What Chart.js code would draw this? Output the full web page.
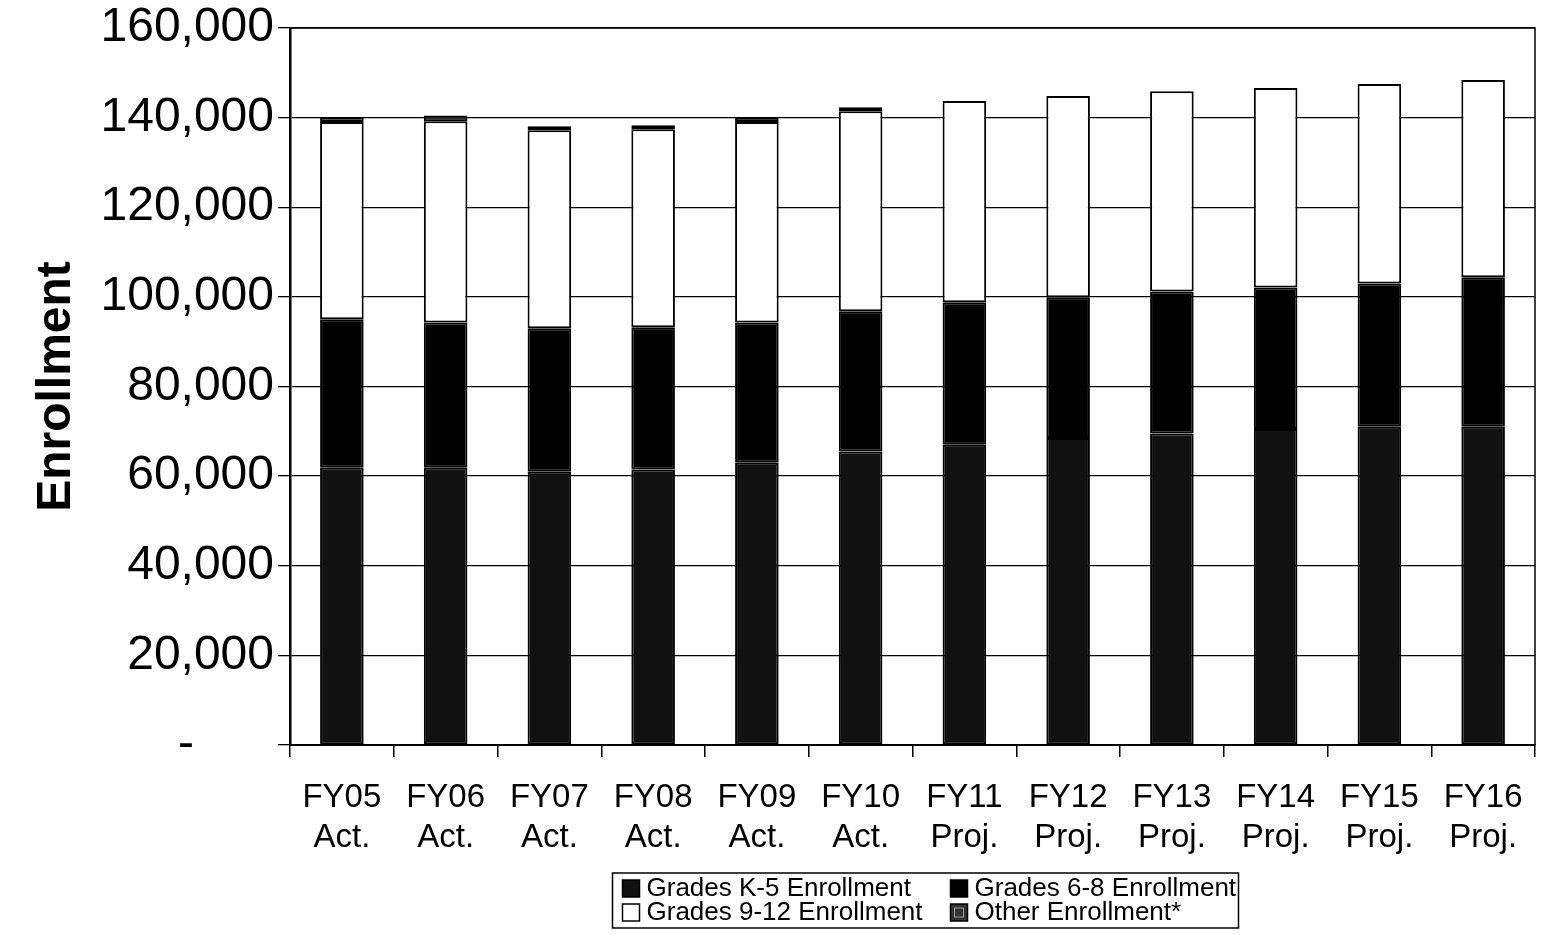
<!DOCTYPE html>
<html>
<head>
<meta charset="utf-8">
<script src="https://cdn.jsdelivr.net/npm/chart.js@4.4.0/dist/chart.umd.min.js"></script>
<style>
html, body { margin: 0; padding: 0; background: #fff; }
#wrap { width: 1549px; height: 935px; }
</style>
</head>
<body>
<div id="wrap"><canvas id="chart"></canvas></div>
<script>
// Fiscal years (two-line labels)
const years = [
    ['FY05', 'Act.'], ['FY06', 'Act.'], ['FY07', 'Act.'], ['FY08', 'Act.'],
    ['FY09', 'Act.'], ['FY10', 'Act.'], ['FY11', 'Proj.'], ['FY12', 'Proj.'],
    ['FY13', 'Proj.'], ['FY14', 'Proj.'], ['FY15', 'Proj.'], ['FY16', 'Proj.']
];

// Enrollment by grade band
const gradesK5  = [62000, 62000, 61000, 61500, 63000, 65500, 67000, 68500, 69500, 70500, 71000, 71000];
const grades68  = [33000, 32300, 32000, 31700, 31300, 31300, 31800, 31400, 31700, 31600, 32000, 33400];
const grades912 = [44000, 44900, 44200, 44200, 44700, 44600, 44900, 44900, 44700, 44500, 44500, 44000];
const otherEnr  = [1100, 1300, 900, 900, 1000, 900, 0, 0, 0, 0, 0, 0];

const yTicks = [0, 20000, 40000, 60000, 80000, 100000, 120000, 140000, 160000];
const seriesNames = ['Grades K-5 Enrollment', 'Grades 6-8 Enrollment', 'Grades 9-12 Enrollment', 'Other Enrollment*'];

const FONT = "'Liberation Sans', Arial, sans-serif";

// Draws the chart frame and the boxed 2x2 legend
const framePlugin = {
    id: 'frame',
    afterDraw(chart) {
        const ctx = chart.ctx;
        const a = chart.chartArea;
        ctx.save();
        ctx.strokeStyle = '#000';
        ctx.lineWidth = 1.5;
        ctx.strokeRect(a.left, a.top, a.right - a.left, a.bottom - a.top);

        // legend
        const lx = (a.left + a.right) / 2 - 300;
        const ly = 873;
        ctx.lineWidth = 1.5;
        ctx.strokeRect(lx, ly, 626, 55);
        ctx.font = '26px ' + FONT;
        ctx.textBaseline = 'middle';
        ctx.fillStyle = '#000';
        const spots = [[lx + 10, ly + 15], [lx + 338, ly + 15], [lx + 10, ly + 39], [lx + 338, ly + 39]];
        chart.data.datasets.forEach((ds, i) => {
            const [x, y] = spots[i];
            ctx.fillStyle = ds.backgroundColor;
            ctx.fillRect(x, y - 8, 17, 17);
            ctx.strokeStyle = '#000';
            ctx.lineWidth = 1.5;
            ctx.strokeRect(x, y - 8, 17, 17);
            if (i === 3) {
                ctx.strokeStyle = '#999';
                ctx.lineWidth = 1;
                ctx.strokeRect(x + 4, y - 4, 9, 9);
            }
            ctx.fillStyle = '#000';
            ctx.fillText(ds.label, x + 24, y + 1);
        });
        ctx.restore();
    }
};

new Chart(document.getElementById('chart'), {
    type: 'bar',
    data: {
        labels: years,
        datasets: [
            { label: seriesNames[0], data: gradesK5,  backgroundColor: '#111111' },
            { label: seriesNames[1], data: grades68,  backgroundColor: '#000000' },
            { label: seriesNames[2], data: grades912, backgroundColor: '#ffffff' },
            { label: seriesNames[3], data: otherEnr,  backgroundColor: '#333333' }
        ].map(ds => Object.assign(ds, {
            borderColor: '#000',
            borderWidth: 2,
            borderSkipped: false,
            barPercentage: 0.42,
            categoryPercentage: 1
        }))
    },
    options: {
        responsive: true,
        maintainAspectRatio: false,
        animation: false,
        devicePixelRatio: 1,
        layout: { padding: { left: 0, right: 14, top: 18, bottom: 80 } },
        plugins: {
            legend: { display: false },
            tooltip: { enabled: false }
        },
        scales: {
            x: {
                stacked: true,
                afterFit: s => { s.height = 110; },
                grid: {
                    offset: true,
                    drawOnChartArea: false,
                    drawTicks: true,
                    tickLength: 12,
                    color: '#000',
                    lineWidth: 1.5
                },
                border: { color: '#000', width: 2 },
                ticks: {
                    color: '#000',
                    padding: 20,
                    maxRotation: 0,
                    autoSkip: false,
                    font: { family: FONT, size: 33, lineHeight: 1.24 }
                }
            },
            y: {
                stacked: true,
                min: 0,
                max: 160000,
                afterFit: s => { s.width = 290; },
                afterBuildTicks: s => { s.ticks = yTicks.map(v => ({ value: v })); },
                grid: {
                    color: '#000',
                    lineWidth: 1.3,
                    drawTicks: true,
                    tickLength: 12
                },
                border: { color: '#000', width: 2.5 },
                ticks: {
                    color: '#000',
                    padding: 4,
                    font: { family: FONT, size: 48, lineHeight: 1.0 },
                    callback: v => v === 0 ? '-\u00a0\u00a0\u00a0\u00a0\u00a0\u00a0' : v.toLocaleString('en-US')
                },
                title: {
                    display: true,
                    text: 'Enrollment',
                    color: '#000',
                    padding: { top: 28, bottom: 0 },
                    font: { family: FONT, size: 48, weight: 'bold' }
                }
            }
        }
    },
    plugins: [framePlugin]
});
</script>
</body>
</html>
